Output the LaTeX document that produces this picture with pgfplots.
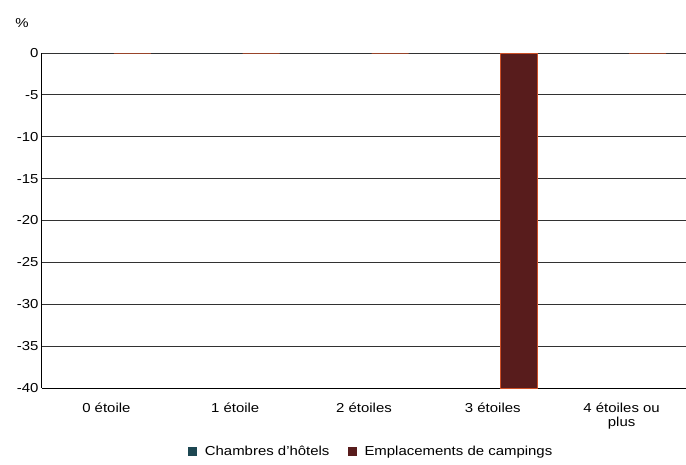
\documentclass[border=0pt]{standalone}
\usepackage{pgfplots}
\pgfplotsset{compat=1.18}
\usepackage{fontspec}
\setmainfont{Liberation Sans}[FakeStretch=1.15]

\definecolor{hotel}{RGB}{29,71,82}
\definecolor{camping}{RGB}{88,28,28}
\definecolor{campedge}{RGB}{205,80,40}
\definecolor{gridc}{RGB}{50,50,50}

\begin{document}
\begin{tikzpicture}[font=\fontsize{13pt}{14pt}\selectfont]
\useasboundingbox (-42pt,-76pt) rectangle (644pt,388pt);
\begin{axis}[
  scale only axis,
  width=644pt, height=335pt,
  xmin=-0.5, xmax=4.5,
  ymin=-40, ymax=0,
  ytick={-40,-35,...,0},
  xtick={0,1,2,3,4},
  xticklabels={0 étoile,1 étoile,2 étoiles,3 étoiles,{4 étoiles ou\\plus}},
  xticklabel style={align=center, yshift=-11pt},
  /pgf/number format/assume math mode=true,
  major tick length=0pt,
  ymajorgrids,
  grid style={gridc, line width=0.9pt},
  axis line style={black, line width=1pt},
  axis x line*=bottom,
  axis y line*=left,
  ybar=15pt,
  bar width=37pt,
  clip=false,
  legend style={draw=none, at={(0.511,-0.19)}, anchor=center,
    legend columns=2, font=\fontsize{13pt}{14pt}\selectfont,
    /tikz/every odd column/.append style={column sep=6pt},
    /tikz/every even column/.append style={column sep=16pt}},
  legend image code/.code={\fill[#1, draw=none] (0pt,-4.5pt) rectangle (9pt,4.5pt);},
]
\addplot[fill=hotel, draw=none] coordinates {(0,0) (1,0) (2,0) (3,0) (4,0)};
\addlegendentry{Chambres d'hôtels}
\addplot[fill=camping, draw=campedge, line width=1pt] coordinates {(0,0) (1,0) (2,0) (3,-40) (4,0)};
\addlegendentry{Emplacements de campings}
\end{axis}
\node at (-20pt,365pt) {\%};
\end{tikzpicture}
\end{document}
